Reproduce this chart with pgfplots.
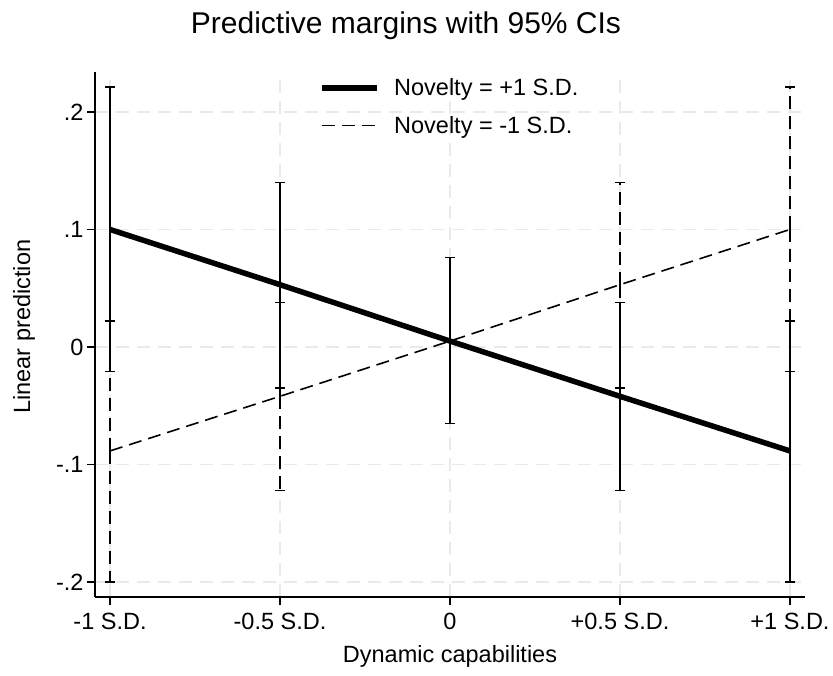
\documentclass[border=0pt]{standalone}
\usepackage{fontspec}
\setmainfont{Liberation Sans}
\usepackage{pgfplots}
\usepackage{pgfplotstable}
\pgfplotsset{compat=1.18}
\pgfplotstableread{
x y lo hi
-1 0.100 -0.021 0.221
-0.5 0.053 -0.035 0.140
0 0.005 -0.065 0.076
0.5 -0.042 -0.122 0.038
1 -0.0885 -0.200 0.022
}\plus
\pgfplotstableread{
x y lo hi
-1 -0.0885 -0.200 0.022
-0.5 -0.042 -0.122 0.038
0 0.005 -0.065 0.076
0.5 0.053 -0.035 0.140
1 0.100 -0.021 0.221
}\minus
\pgfplotstablecreatecol[expr={\thisrow{hi}-\thisrow{y}}]{ep}\plus
\pgfplotstablecreatecol[expr={\thisrow{y}-\thisrow{lo}}]{em}\plus
\pgfplotstablecreatecol[expr={\thisrow{hi}-\thisrow{y}}]{ep}\minus
\pgfplotstablecreatecol[expr={\thisrow{y}-\thisrow{lo}}]{em}\minus
\definecolor{gridgray}{RGB}{234,234,234}
\begin{document}
\begin{tikzpicture}
\useasboundingbox (0,0) rectangle (833pt,675pt);
\begin{axis}[
  at={(95pt,78pt)}, anchor=south west,
  scale only axis, width=710pt, height=525pt,
  xmin=-1.0441, xmax=1.0441, ymin=-0.2128, ymax=0.234,
  axis lines=left, axis line style={-, line width=1.2pt},
  xtick={-1,-0.5,0,0.5,1},
  xticklabels={-1 S.D.,-0.5 S.D.,0,+0.5 S.D.,+1 S.D.},
  ytick={-0.2,-0.1,0,0.1,0.2},
  yticklabels={-.2,-.1,0,.1,.2},
  tick align=outside, major tick length=8pt,
  tick style={black, line width=1.2pt},
  ticklabel style={font=\fontsize{23.5}{28}\selectfont},
  xticklabel style={yshift=-5pt},
  /pgf/number format/assume math mode=true,
  grid=major,
  grid style={gridgray, line width=1.3pt, dash pattern=on 13pt off 8pt},
  title={Predictive margins with 95\% CIs},
  title style={at={(axis description cs:0.438,1.061)}, anchor=base, font=\fontsize{30}{36}\selectfont},
  xlabel={Dynamic capabilities},
  xlabel style={at={(axis description cs:0.5,-0.1257)}, anchor=base, font=\fontsize{23.5}{28}\selectfont},
  ylabel={Linear prediction},
  ylabel style={at={(axis description cs:-0.0915,0.515)}, anchor=base, font=\fontsize{23.5}{28}\selectfont},
  legend style={at={(0.5,0.995)}, anchor=north, draw=none, fill=none,
    font=\fontsize{23.5}{28}\selectfont, row sep=15pt,
    /tikz/every odd column/.append style={column sep=12pt}},
  legend cell align=left,
  legend image code/.code={\draw[#1] (0pt,0pt) -- (55pt,0pt);},
]
\addplot[forget plot, black, line width=1.6pt, dash pattern=on 13pt off 7pt, mark=none,
  error bars/.cd, y dir=both, y explicit,
  error bar style={line width=1.6pt, dash pattern=on 13pt off 7pt},
  error mark options={rotate=90, solid, line width=1.6pt, mark size=5pt}]
  table[x=x, y=y, y error plus=ep, y error minus=em]{\minus};
\addplot[forget plot, black, line width=5.5pt, mark=none,
  error bars/.cd, y dir=both, y explicit,
  error bar style={line width=1.6pt, solid},
  error mark options={rotate=90, solid, line width=1.6pt, mark size=5pt}]
  table[x=x, y=y, y error plus=ep, y error minus=em]{\plus};
\addlegendimage{black, line width=5.5pt}
\addlegendentry{Novelty = +1 S.D.}
\addlegendimage{black, line width=1.6pt, dash pattern=on 13pt off 7pt}
\addlegendentry{Novelty = -1 S.D.}
\end{axis}
\end{tikzpicture}
\end{document}
